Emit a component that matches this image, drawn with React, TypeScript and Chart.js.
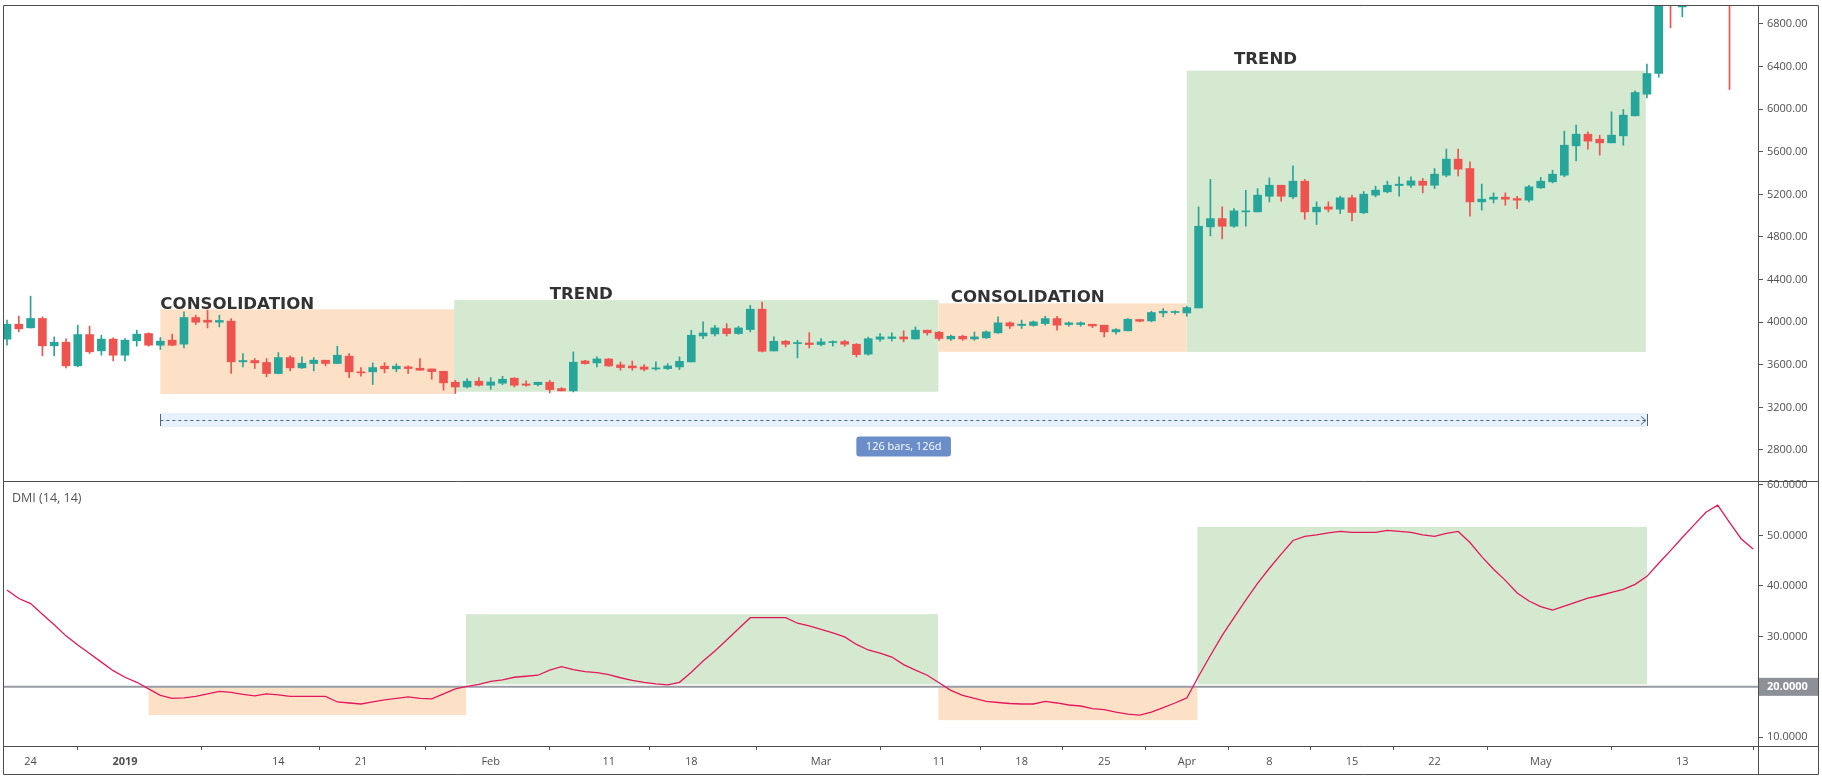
import React, { useEffect, useRef } from 'react';
import { Chart, registerables } from 'chart.js';

Chart.register(...registerables);

// Day index 0 = 24 Dec 2018; first candle is 22 Dec 2018.
const FIRST_DAY = -2;

const OPEN = [
  3841, 3981, 3947, 4035, 3778, 3812, 3590, 3884, 3731, 3841, 3690, 3825,
  3894, 3784, 3831, 3794, 4044, 4019, 4000, 4010, 3628, 3640,
  3622, 3518, 3668, 3571, 3612, 3643, 3612, 3681, 3534, 3534,
  3587, 3562, 3581, 3568, 3561, 3539, 3436, 3392, 3446, 3408,
  3427, 3474, 3420, 3414, 3436, 3377, 3355, 3636, 3618, 3655,
  3599, 3589, 3580, 3561, 3564, 3580, 3627, 3871, 3890, 3940,
  3893, 3931, 4122, 3730, 3821, 3799, 3805, 3790, 3809, 3818,
  3793, 3700, 3840, 3847, 3862, 3843, 3925, 3906, 3843, 3868,
  3843, 3853, 3900, 3994, 3969, 3969, 3987, 4034, 3978, 3978,
  3981, 3972, 3909, 3919, 4025, 4012, 4087, 4091, 4087, 4134,
  4895, 4973, 4901, 5036, 5036, 5183, 5286, 5177, 5324, 5036,
  5083, 5061, 5168, 5027, 5193, 5224, 5283, 5286, 5324, 5286,
  5380, 5531, 5443, 5130, 5155, 5174, 5161, 5146, 5262, 5318,
  5380, 5656, 5765, 5718, 5684, 5750, 5938, 6141, 6335, 7250,
  6960, null, null, null, 7870, null, null,
];

const HIGH = [
  4019, 4057, 4244, 4050, 3862, 3844, 3972, 3963, 3878, 3853, 3847, 3925,
  3900, 3856, 3888, 4097, 4066, 4113, 4066, 4035, 3706, 3659,
  3659, 3715, 3684, 3674, 3668, 3643, 3775, 3706, 3574, 3618,
  3621, 3609, 3590, 3658, 3561, 3539, 3455, 3470, 3480, 3480,
  3492, 3480, 3449, 3436, 3455, 3386, 3721, 3643, 3674, 3658,
  3627, 3636, 3602, 3627, 3611, 3674, 3924, 4003, 3971, 3987,
  3962, 4159, 4190, 3862, 3830, 3830, 3903, 3846, 3824, 3830,
  3799, 3860, 3893, 3900, 3919, 3956, 3925, 3915, 3878, 3878,
  3909, 3919, 4050, 4003, 4019, 4012, 4056, 4056, 4003, 4003,
  3981, 3972, 3940, 4034, 4025, 4103, 4128, 4106, 4150, 5083,
  5340, 5083, 5067, 5239, 5255, 5355, 5286, 5468, 5340, 5130,
  5130, 5183, 5193, 5227, 5277, 5324, 5364, 5364, 5349, 5443,
  5625, 5625, 5506, 5296, 5214, 5214, 5183, 5286, 5359, 5427,
  5794, 5850, 5787, 5756, 5975, 5997, 6172, 6423, 7400, 7500,
  8000, null, null, null, 7930, null, null,
];

const LOW = [
  3784, 3909, 3945, 3684, 3684, 3571, 3581, 3706, 3690, 3637, 3637, 3775,
  3775, 3744, 3780, 3759, 3978, 3947, 3956, 3518, 3581, 3565,
  3487, 3515, 3543, 3565, 3543, 3590, 3612, 3480, 3493, 3415,
  3524, 3534, 3518, 3549, 3464, 3361, 3330, 3383, 3399, 3370,
  3414, 3392, 3399, 3402, 3336, 3355, 3345, 3605, 3580, 3586,
  3549, 3549, 3543, 3549, 3555, 3555, 3627, 3846, 3871, 3871,
  3887, 3909, 3721, 3730, 3768, 3665, 3758, 3777, 3774, 3774,
  3674, 3690, 3820, 3825, 3815, 3840, 3878, 3830, 3830, 3830,
  3830, 3847, 3894, 3941, 3941, 3962, 3972, 3925, 3962, 3962,
  3950, 3862, 3887, 3919, 4003, 4003, 4050, 4075, 4056, 4134,
  4811, 4782, 4889, 4901, 5036, 5130, 5136, 5161, 4967, 4917,
  5036, 5020, 4952, 5020, 5177, 5214, 5183, 5265, 5214, 5255,
  5365, 5374, 4995, 5052, 5120, 5099, 5067, 5130, 5255, 5308,
  5365, 5515, 5625, 5568, 5684, 5662, 5938, 6106, 6300, 6764,
  6867, null, null, null, 6185, null, null,
];

const CLOSE = [
  3981, 3938, 4035, 3778, 3812, 3590, 3884, 3722, 3841, 3690, 3831, 3888,
  3784, 3822, 3784, 4044, 4000, 4000, 4016, 3628, 3640, 3618,
  3518, 3668, 3571, 3615, 3643, 3612, 3690, 3534, 3524, 3574,
  3562, 3587, 3565, 3549, 3536, 3430, 3392, 3446, 3408, 3439,
  3464, 3408, 3408, 3436, 3367, 3355, 3624, 3611, 3655, 3589,
  3574, 3571, 3558, 3571, 3589, 3633, 3877, 3899, 3946, 3893,
  3946, 4122, 3727, 3821, 3793, 3809, 3790, 3815, 3818, 3793,
  3696, 3845, 3862, 3862, 3843, 3925, 3900, 3847, 3868, 3843,
  3862, 3909, 3994, 3965, 3981, 4003, 4034, 3972, 3994, 3994,
  3965, 3909, 3931, 4028, 4009, 4091, 4103, 4100, 4137, 4901,
  4973, 4901, 5045, 5045, 5193, 5286, 5183, 5324, 5036, 5080,
  5061, 5168, 5030, 5202, 5240, 5286, 5296, 5327, 5286, 5390,
  5531, 5437, 5130, 5155, 5174, 5155, 5146, 5271, 5324, 5390,
  5662, 5765, 5700, 5684, 5756, 5944, 6157, 6335, 7200, 7000,
  7800, null, null, null, 7360, null, null,
];

const DMI = [
  39.2, 37.5, 36.5, 34.4, 32.3, 30.1, 28.3, 26.6, 24.9, 23.2, 21.9, 20.9,
  19.6, 18.3, 17.7, 17.8, 18.1, 18.6, 19.1, 18.9, 18.5, 18.2,
  18.6, 18.4, 18.1, 18.1, 18.1, 18.1, 17.0, 16.8, 16.6, 17.0,
  17.4, 17.7, 18.0, 17.7, 17.6, 18.6, 19.6, 20.1, 20.5, 21.1,
  21.4, 21.9, 22.1, 22.3, 23.3, 24.0, 23.4, 23.0, 22.8, 22.4,
  21.8, 21.3, 20.9, 20.6, 20.4, 20.9, 22.9, 25.1, 27.1, 29.3,
  31.5, 33.7, 33.7, 33.7, 33.7, 32.6, 32.1, 31.4, 30.7, 29.9,
  28.4, 27.3, 26.7, 25.9, 24.4, 23.3, 22.3, 20.8, 19.3, 18.3,
  17.7, 17.1, 16.9, 16.7, 16.6, 16.6, 17.1, 16.8, 16.4, 16.2,
  15.7, 15.5, 15.0, 14.6, 14.4, 15.0, 15.9, 16.8, 17.8, 22.1,
  26.2, 30.2, 33.7, 37.2, 40.5, 43.5, 46.3, 49.0, 49.8, 50.1,
  50.5, 50.8, 50.6, 50.6, 50.6, 51.0, 50.8, 50.6, 50.1, 49.8,
  50.4, 50.8, 48.6, 45.8, 43.3, 41.1, 38.6, 37.0, 35.9, 35.2,
  36.0, 36.8, 37.6, 38.1, 38.7, 39.3, 40.3, 41.9, 44.5, 47.0,
  49.6, 52.1, 54.6, 56.0, 52.6, 49.3, 47.3,
];

const X_TICK_DAYS = [0, 8, 21, 28, 39, 49, 56, 67, 77, 84, 91, 98, 105, 112, 119, 128, 140];
const X_TICK_LABELS = ['24', '2019', '14', '21', 'Feb', '11', '18', 'Mar', '11', '18', '25', 'Apr', '8', '15', '22', 'May', '13'];
const PRICE_TICKS = [2800, 3200, 3600, 4000, 4400, 4800, 5200, 5600, 6000, 6400, 6800];
const DMI_TICKS = [10, 20, 30, 40, 50, 60];

// Annotated zones
const ZONE_KIND = ['consolidation', 'trend', 'consolidation', 'trend'];
const ZONE_LABELS = ['CONSOLIDATION', 'TREND', 'CONSOLIDATION', 'TREND'];
const PRICE_ZONE_START = [11, 35.9, 76.95, 98];
const PRICE_ZONE_END = [35.9, 76.95, 98, 136.9];
const PRICE_ZONE_TOP = [4121, 4208, 4177, 6362];
const PRICE_ZONE_BOTTOM = [3326, 3347, 3721, 3721];
const LABEL_DAY = [11, 44, 78, 102];
const LABEL_PRICE = [4124, 4215, 4192, 6422];
const DMI_ZONE_START = [10, 36.9, 76.95, 98.9];
const DMI_ZONE_END = [36.9, 76.9, 98.9, 137];
const DMI_ZONE_TOP = [19.9, 34.4, 19.9, 51.7];
const DMI_ZONE_BOTTOM = [14.4, 20.5, 13.4, 20.5];
const DMI_LEVEL = 20;
const DMI_TITLE = 'DMI (14, 14)';

// Date range measurement
const RANGE_FROM_DAY = 11;
const RANGE_TO_DAY = 137;
const RANGE_PRICE = 3082;
const RANGE_BAND_TOP = 3147;
const RANGE_BAND_BOTTOM = 3016;
const RANGE_LABEL_PRICE = 2833;
const RANGE_LABEL = '126 bars, 126d';

const UP = '#26a69a';
const DOWN = '#ef5350';
const ORANGE_FILL = '#fde1c6';
const GREEN_FILL = '#d5e8d0';
const AXIS_TEXT = '#505050';
const FONT = "'Open Sans', 'DejaVu Sans', sans-serif";

const annotationPlugin = {
  id: 'tvAnnotations',
  beforeDatasetsDraw(chart: any) {
    const { ctx, chartArea, scales } = chart;
    const x = scales.x, y = scales.y, y2 = scales.y2;
    const w = chartArea.right - chartArea.left;

    // price pane
    ctx.save();
    ctx.beginPath();
    ctx.rect(chartArea.left, y.top, w, y.bottom - y.top);
    ctx.clip();
    PRICE_ZONE_START.forEach((s: number, i: number) => {
      const x1 = x.getPixelForValue(s);
      const x2 = x.getPixelForValue(PRICE_ZONE_END[i]);
      const yt = y.getPixelForValue(PRICE_ZONE_TOP[i]);
      const yb = y.getPixelForValue(PRICE_ZONE_BOTTOM[i]);
      ctx.fillStyle = ZONE_KIND[i] === 'trend' ? GREEN_FILL : ORANGE_FILL;
      ctx.fillRect(x1, yt, x2 - x1, yb - yt);
    });
    // range band
    const rx1 = x.getPixelForValue(RANGE_FROM_DAY);
    const rx2 = x.getPixelForValue(RANGE_TO_DAY);
    const bt = y.getPixelForValue(RANGE_BAND_TOP);
    const bb = y.getPixelForValue(RANGE_BAND_BOTTOM);
    const ry = Math.round(y.getPixelForValue(RANGE_PRICE)) + 0.5;
    ctx.fillStyle = '#e7f1fc';
    ctx.fillRect(rx1, bt, rx2 - rx1, bb - bt);
    ctx.strokeStyle = '#4b6388';
    ctx.lineWidth = 1;
    ctx.setLineDash([3, 3]);
    ctx.beginPath();
    ctx.moveTo(rx1, ry);
    ctx.lineTo(rx2, ry);
    ctx.stroke();
    ctx.setLineDash([]);
    ctx.beginPath();
    ctx.moveTo(Math.round(rx1) + 0.5, bt + 1);
    ctx.lineTo(Math.round(rx1) + 0.5, bb - 1);
    ctx.moveTo(Math.round(rx2) + 0.5, bt + 1);
    ctx.lineTo(Math.round(rx2) + 0.5, bb - 1);
    ctx.moveTo(rx2 - 6, ry - 4);
    ctx.lineTo(rx2 - 1, ry);
    ctx.lineTo(rx2 - 6, ry + 4);
    ctx.stroke();
    ctx.restore();

    // DMI pane
    ctx.save();
    ctx.beginPath();
    ctx.rect(chartArea.left, y2.top, w, y2.bottom - y2.top);
    ctx.clip();
    DMI_ZONE_START.forEach((s: number, i: number) => {
      const x1 = x.getPixelForValue(s);
      const x2 = x.getPixelForValue(DMI_ZONE_END[i]);
      const yt = y2.getPixelForValue(DMI_ZONE_TOP[i]);
      const yb = y2.getPixelForValue(DMI_ZONE_BOTTOM[i]);
      ctx.fillStyle = ZONE_KIND[i] === 'trend' ? GREEN_FILL : ORANGE_FILL;
      ctx.fillRect(x1, yt, x2 - x1, yb - yt);
    });
    const ly = y2.getPixelForValue(DMI_LEVEL);
    ctx.strokeStyle = '#999ba3';
    ctx.lineWidth = 2;
    ctx.beginPath();
    ctx.moveTo(chartArea.left, ly);
    ctx.lineTo(chartArea.right, ly);
    ctx.stroke();
    ctx.restore();
  },
  afterDatasetsDraw(chart: any) {
    const { ctx, chartArea, scales } = chart;
    const x = scales.x, y = scales.y, y2 = scales.y2;
    ctx.save();
    ctx.font = "bold 16.6px 'DejaVu Sans', sans-serif";
    ctx.fillStyle = '#333333';
    ctx.textAlign = 'left';
    ctx.textBaseline = 'alphabetic';
    ZONE_LABELS.forEach((t: string, i: number) => {
      ctx.fillText(t, x.getPixelForValue(LABEL_DAY[i]), y.getPixelForValue(LABEL_PRICE[i]));
    });

    // range label
    const cx = (x.getPixelForValue(RANGE_FROM_DAY) + x.getPixelForValue(RANGE_TO_DAY)) / 2;
    const cy = y.getPixelForValue(RANGE_LABEL_PRICE);
    ctx.font = `11px ${FONT}`;
    const tw = ctx.measureText(RANGE_LABEL).width;
    const bw = tw + 19;
    const bh = 20;
    ctx.fillStyle = '#6b8dc8';
    ctx.beginPath();
    if (ctx.roundRect) ctx.roundRect(cx - bw / 2, cy - bh / 2, bw, bh, 3);
    else ctx.rect(cx - bw / 2, cy - bh / 2, bw, bh);
    ctx.fill();
    ctx.fillStyle = '#ffffff';
    ctx.textAlign = 'center';
    ctx.textBaseline = 'middle';
    ctx.fillText(RANGE_LABEL, cx, cy + 0.5);

    // DMI title
    ctx.font = `12.5px ${FONT}`;
    ctx.fillStyle = '#555555';
    ctx.textAlign = 'left';
    ctx.textBaseline = 'middle';
    ctx.fillText(DMI_TITLE, chartArea.left + 9, y2.top + 16.5);
    ctx.restore();
  },
  afterDraw(chart: any) {
    const { ctx, chartArea, scales, width } = chart;
    const y2 = scales.y2;
    const x = scales.x;
    ctx.save();
    // level tag on the DMI axis
    const ly = y2.getPixelForValue(DMI_LEVEL);
    const right = width - 4;
    ctx.fillStyle = '#8e9098';
    ctx.fillRect(chartArea.right, ly - 9, right - chartArea.right, 18);
    ctx.fillStyle = '#ffffff';
    ctx.font = `bold 11px ${FONT}`;
    ctx.textAlign = 'left';
    ctx.textBaseline = 'middle';
    ctx.fillText(DMI_LEVEL.toFixed(4), chartArea.right + 9, ly + 0.5);

    // frame lines
    ctx.strokeStyle = '#4e4e4e';
    ctx.lineWidth = 1;
    const top = chartArea.top - 0.5;
    const bottom = x.bottom + 0.5;
    const left = chartArea.left + 0.5;
    const rr = right + 0.5;
    ctx.beginPath();
    ctx.rect(left, top, rr - left, bottom - top);
    ctx.moveTo(left, Math.round(y2.top) - 0.5);
    ctx.lineTo(rr, Math.round(y2.top) - 0.5);
    ctx.moveTo(left, Math.round(chartArea.bottom) + 0.5);
    ctx.lineTo(rr, Math.round(chartArea.bottom) + 0.5);
    ctx.moveTo(Math.round(chartArea.right) + 0.5, top);
    ctx.lineTo(Math.round(chartArea.right) + 0.5, bottom);
    ctx.stroke();
    ctx.restore();
  },
};

export default function App() {
  const ref = useRef<HTMLCanvasElement | null>(null);

  useEffect(() => {
    if (!ref.current) return;
    Chart.defaults.font.family = FONT;

    const idx = OPEN.map((_, i) => i).filter((i) => OPEN[i] != null && CLOSE[i] != null);
    const dayOf = (i: number) => FIRST_DAY + i;
    const colorOf = (i: number) => ((CLOSE[i] as number) >= (OPEN[i] as number) ? UP : DOWN);

    const tickGrid = (len: number) => ({
      display: true,
      drawOnChartArea: false,
      drawTicks: true,
      tickLength: len,
      color: '#555555',
      lineWidth: 1,
    });

    const chart = new Chart(ref.current, {
      type: 'bar',
      data: {
        datasets: [
          {
            type: 'bar',
            label: 'wicks',
            data: idx.map((i) => ({ x: dayOf(i), y: [LOW[i], HIGH[i]] })),
            backgroundColor: idx.map(colorOf),
            borderWidth: 0,
            barThickness: 1,
            grouped: false,
            order: 3,
            xAxisID: 'x',
            yAxisID: 'y',
          },
          {
            type: 'bar',
            label: 'bodies',
            data: idx.map((i) => ({ x: dayOf(i), y: [OPEN[i], CLOSE[i]] })),
            backgroundColor: idx.map(colorOf),
            borderWidth: 0,
            barThickness: 8,
            minBarLength: 1,
            grouped: false,
            order: 2,
            xAxisID: 'x',
            yAxisID: 'y',
          },
          {
            type: 'line',
            label: 'DMI',
            data: DMI.map((v, i) => ({ x: dayOf(i), y: v })),
            borderColor: '#e3185d',
            borderWidth: 1.3,
            pointRadius: 0,
            tension: 0,
            fill: false,
            order: 1,
            xAxisID: 'x',
            yAxisID: 'y2',
          },
        ],
      } as any,
      options: {
        responsive: false,
        maintainAspectRatio: false,
        animation: false,
        events: [],
        layout: { padding: { left: 3, top: 6, right: 4, bottom: 6 } },
        plugins: { legend: { display: false }, tooltip: { enabled: false } },
        scales: {
          x: {
            type: 'linear',
            min: -2.339,
            max: 146.415,
            offset: false,
            bounds: 'data',
            grid: tickGrid(4),
            border: { display: false },
            ticks: {
              autoSkip: false,
              maxRotation: 0,
              minRotation: 0,
              padding: 5,
              color: AXIS_TEXT,
              font: (c: any) => ({
                family: FONT,
                size: 11,
                weight: X_TICK_LABELS[c.index] === '2019' ? 'bold' : 'normal',
              }),
              callback: (_v: any, i: number) => X_TICK_LABELS[i],
            },
            afterBuildTicks: (s: any) => {
              s.ticks = X_TICK_DAYS.map((v) => ({ value: v }));
            },
            afterFit: (s: any) => {
              s.height = 28;
              s.paddingLeft = 0;
              s.paddingRight = 0;
            },
          },
          y: {
            type: 'linear',
            position: 'right',
            stack: 'panes',
            stackWeight: 476,
            min: 2499.5,
            max: 6969,
            bounds: 'data',
            grid: tickGrid(5),
            border: { display: false },
            ticks: {
              padding: 4,
              color: AXIS_TEXT,
              font: { family: FONT, size: 11 },
              callback: (v: any) => Number(v).toFixed(2),
            },
            afterBuildTicks: (s: any) => {
              s.ticks = PRICE_TICKS.map((v) => ({ value: v }));
            },
            afterFit: (s: any) => {
              s.width = 60;
              s.paddingTop = 0;
              s.paddingBottom = 0;
            },
          },
          y2: {
            type: 'linear',
            position: 'right',
            stack: 'panes',
            stackWeight: 264,
            min: 8.276,
            max: 60.59,
            bounds: 'data',
            grid: tickGrid(5),
            border: { display: false },
            ticks: {
              padding: 4,
              color: AXIS_TEXT,
              font: { family: FONT, size: 11 },
              callback: (v: any) => Number(v).toFixed(4),
            },
            afterBuildTicks: (s: any) => {
              s.ticks = DMI_TICKS.map((v) => ({ value: v }));
            },
            afterFit: (s: any) => {
              s.width = 60;
              s.paddingTop = 0;
              s.paddingBottom = 0;
            },
          },
        },
      } as any,
      plugins: [annotationPlugin],
    });

    return () => chart.destroy();
  }, []);

  return (
    <div style={{ position: 'fixed', left: 0, top: 0, width: 1822, height: 780, background: '#ffffff' }}>
      <canvas ref={ref} width={1822} height={780} style={{ display: 'block', width: 1822, height: 780 }} />
    </div>
  );
}
